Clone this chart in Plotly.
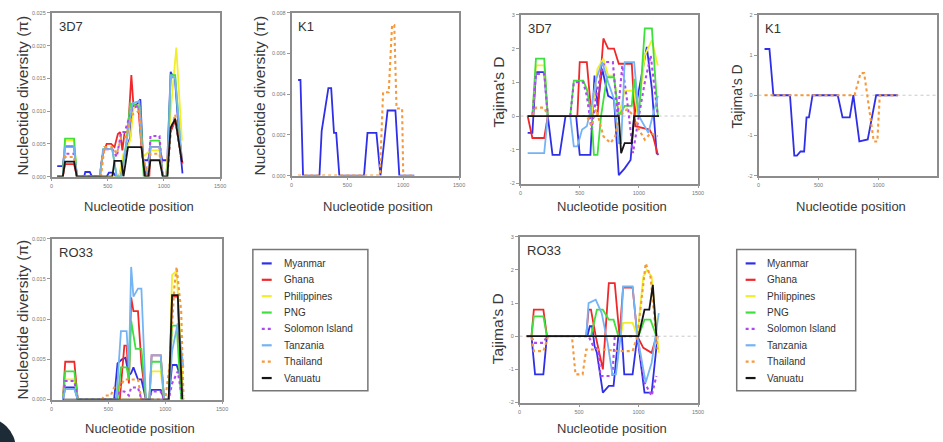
import plotly.graph_objects as go

W, H = 943, 442

SERIES = ["Myanmar", "Ghana", "Philippines", "PNG", "Solomon Island", "Tanzania", "Thailand", "Vanuatu"]
COLORS = {"Myanmar": "#2f2fe8", "Ghana": "#f0282a", "Philippines": "#f2ee2a", "PNG": "#3de03d",
          "Solomon Island": "#b048f0", "Tanzania": "#74b4f5", "Thailand": "#f59a3c", "Vanuatu": "#151515"}
DOTTED = {"Solomon Island", "Thailand"}

X_TICKS = [0, 500, 1000, 1500]
PI_TICKS_3D7 = [0, 0.005, 0.010, 0.015, 0.020, 0.025]
PI_TICKS_K1 = [0, 0.002, 0.004, 0.006, 0.008]
PI_TICKS_RO33 = [0, 0.005, 0.010, 0.015, 0.020]
D_TICKS_5 = [-2, -1, 0, 1, 2, 3]
D_TICKS_4 = [-2, -1, 0, 1, 2]

# ---- Nucleotide diversity, 3D7 ----
pi_3d7 = {
    "Myanmar": ([50, 100, 120, 200, 225, 290, 300, 340, 360, 490, 510, 550, 570, 600, 640, 670, 700, 720, 760, 790, 815, 860, 880, 960, 985, 1030, 1060, 1100, 1140, 1165],
                [0.0016, 0.0016, 0.0046, 0.0046, 0, 0, 0.0007, 0.0007, 0, 0, 0.0006, 0.0006, 0, 0, 0.0025, 0.0045, 0.006, 0.011, 0.011, 0.0118, 0.0025, 0.0025, 0.0045, 0.0045, 0.0025, 0.0025, 0.016, 0.0145, 0.005, 0.0005]),
    "Ghana": ([50, 100, 120, 200, 225, 430, 450, 490, 530, 560, 590, 610, 630, 650, 680, 710, 730, 770, 800, 840, 870, 880, 960, 990, 1020, 1050, 1100, 1130, 1165],
              [0, 0, 0.0019, 0.0019, 0, 0, 0.003, 0.005, 0.005, 0.0045, 0.0065, 0.0068, 0.004, 0.0068, 0.0068, 0.0155, 0.0105, 0.011, 0.0045, 0, 0, 0.0045, 0.0045, 0, 0, 0.0065, 0.0085, 0.007, 0.002]),
    "Philippines": ([50, 100, 120, 200, 225, 600, 640, 680, 700, 730, 780, 810, 880, 960, 990, 1020, 1060, 1110, 1160],
                    [0, 0, 0.0055, 0.0055, 0, 0, 0.0035, 0.0047, 0.0056, 0.0105, 0.011, 0.003, 0.004, 0.004, 0, 0, 0.01, 0.0197, 0.0055]),
    "PNG": ([50, 100, 120, 200, 225, 430, 460, 540, 580, 620, 660, 700, 760, 790, 820, 860, 880, 960, 990, 1030, 1060, 1100, 1150],
            [0, 0, 0.0058, 0.0058, 0, 0, 0.0042, 0.0042, 0, 0, 0.0045, 0.0112, 0.0108, 0.0105, 0, 0, 0.0055, 0.0055, 0, 0, 0.0155, 0.0155, 0.004]),
    "Solomon Island": ([50, 100, 120, 200, 225, 430, 460, 540, 580, 620, 650, 720, 780, 810, 860, 880, 960, 990, 1030, 1060, 1100, 1150],
                       [0, 0, 0.0035, 0.0035, 0, 0, 0.0042, 0.0042, 0.003, 0.0068, 0.0068, 0.0105, 0.0108, 0.003, 0, 0.0062, 0.0062, 0, 0, 0.007, 0.009, 0.003]),
    "Tanzania": ([50, 100, 120, 200, 225, 430, 460, 540, 580, 620, 660, 720, 780, 810, 860, 880, 960, 990, 1030, 1060, 1100, 1160],
                 [0, 0, 0.0045, 0.0045, 0, 0, 0.0042, 0.0042, 0, 0, 0.0045, 0.0112, 0.0115, 0.003, 0, 0.0045, 0.0045, 0, 0, 0.0155, 0.015, 0.0025]),
    "Thailand": ([50, 100, 120, 200, 225, 440, 470, 540, 580, 620, 660, 720, 780, 810, 860, 880, 960, 990, 1030, 1060, 1100, 1150],
                 [0, 0, 0.003, 0.003, 0, 0, 0.0045, 0.0045, 0.0035, 0.006, 0.006, 0.0095, 0.01, 0.003, 0, 0.0035, 0.0035, 0, 0, 0.007, 0.0095, 0.003]),
    "Vanuatu": ([50, 100, 120, 200, 225, 540, 560, 620, 640, 680, 800, 830, 860, 880, 960, 990, 1030, 1060, 1100, 1160],
                [0, 0, 0.0023, 0.0023, 0, 0, 0.0024, 0.0024, 0, 0.0045, 0.0045, 0, 0, 0.0025, 0.0025, 0, 0, 0.0075, 0.0088, 0.0022]),
}

# ---- Nucleotide diversity, K1 ----
pi_k1 = {
    "Myanmar": ([59, 80, 103, 250, 270, 330, 355, 380, 400, 428, 649, 680, 760, 796, 860, 930, 965, 1100],
                [0.0047, 0.0047, 0, 0, 0.0022, 0.0043, 0.0043, 0.0021, 0.0021, 0, 0, 0.0021, 0.0021, 0, 0.0032, 0.0032, 0, 0]),
    "Thailand": ([59, 790, 820, 870, 900, 920, 940, 990, 1000, 1100],
                 [0, 0, 0.0041, 0.0041, 0.0074, 0.0074, 0.0033, 0.0033, 0, 0]),
}

# ---- Tajima's D, 3D7 ----
d_3d7 = {
    "Myanmar": ([60, 100, 130, 200, 230, 270, 330, 380, 470, 500, 590, 625, 650, 690, 740, 790, 830, 880, 930, 960, 1067, 1110, 1150, 1165],
                [-0.5, -0.5, 1.3, 1.3, 0, -1.15, -1.15, 0, 0, -1.15, -1.15, 1.2, 0.3, 1.4, 0.6, 0.5, -1.75, -1.55, -1.3, 0, 2.05, 0.8, -1.1, -1.15]),
    "Ghana": ([60, 100, 200, 230, 440, 480, 500, 560, 600, 650, 700, 740, 790, 830, 940, 970, 1090, 1120, 1160],
              [0, -0.65, -0.65, 0, 0, 0, 1.6, 1.6, 0, 0, 2.3, 2.0, 2.0, 1.55, 1.55, -0.3, -0.4, -0.6, -1.15]),
    "Philippines": ([60, 100, 130, 200, 230, 600, 650, 700, 740, 790, 830, 880, 960, 990, 1050, 1110, 1160],
                    [0, 0, 1.5, 1.5, 0, 0, 1.4, 1.7, 1.2, 1.2, 0, 0.75, 0.75, 0, 1.8, 2.25, 1.5]),
    "PNG": ([60, 100, 130, 200, 230, 420, 450, 530, 560, 600, 620, 650, 680, 730, 790, 830, 880, 940, 960, 1000, 1050, 1110, 1160],
            [0, 0, 1.7, 1.7, 0, 0, 1.05, 1.05, 0.8, 0, -1.15, -1.15, 0, 1.15, 1.15, 0, 0.3, 0.3, 1.1, 0, 2.6, 2.6, 0]),
    "Solomon Island": ([60, 100, 130, 200, 230, 420, 450, 530, 560, 600, 640, 680, 710, 780, 820, 860, 910, 950, 1000, 1050, 1100, 1160],
                       [0, 0, 1.25, 1.25, 0, 0, 1.0, 1.0, 0.6, -0.4, 0.6, 1.3, 1.6, 1.6, 0, 1.5, 0.2, -1.1, 0, 1.0, 1.8, 0]),
    "Tanzania": ([60, 200, 230, 420, 450, 480, 520, 560, 600, 640, 690, 740, 790, 830, 850, 880, 960, 1000, 1080, 1130, 1160],
                 [-1.1, -1.1, 0, 0, -0.9, -0.9, -0.4, -0.3, 0.3, 1.1, 1.6, 1.0, 0.5, -0.8, -0.8, 1.6, 1.6, 0, -0.5, 0.2, 0.6]),
    "Thailand": ([60, 100, 130, 200, 230, 560, 600, 640, 700, 760, 800, 830, 900, 960, 1000, 1050, 1100, 1160],
                 [0, 0, 0.25, 0.25, 0, 0, -0.3, 0.2, -0.6, -0.8, -0.6, 0, 0.2, 0, -0.4, -0.7, -0.5, -0.6]),
    "Vanuatu": ([60, 830, 850, 880, 940, 960, 1170],
                [0, 0, -1.1, -0.8, -0.8, 0, 0]),
}

# ---- Tajima's D, K1 ----
d_k1 = {
    "Myanmar": ([50, 91, 124, 262, 298, 320, 350, 380, 400, 420, 450, 660, 700, 760, 790, 840, 910, 980, 1160],
                [1.15, 1.15, 0, 0, -1.5, -1.5, -1.4, -1.4, -0.55, -0.55, 0, 0, -0.55, -0.55, 0, -1.15, -1.1, 0, 0]),
    "Thailand": ([50, 800, 850, 880, 960, 990, 1010, 1160],
                 [0, 0, 0.55, 0.55, -1.15, -1.15, 0, 0]),
}

# ---- Nucleotide diversity, RO33 ----
pi_ro33 = {
    "Myanmar": ([100, 120, 200, 230, 550, 580, 620, 650, 680, 700, 720, 760, 790, 830, 860, 880, 960, 990, 1030, 1060, 1100, 1130, 1160],
                [0, 0.0015, 0.0015, 0, 0, 0.0045, 0.005, 0.0052, 0.003, 0.0033, 0.004, 0.0025, 0.0025, 0, 0, 0.0012, 0.0012, 0, 0, 0.0043, 0.0043, 0.003, 0]),
    "Ghana": ([100, 120, 200, 230, 600, 640, 660, 680, 700, 720, 760, 790, 830, 860, 880, 960, 990, 1030, 1060, 1110, 1140],
              [0, 0.0047, 0.0047, 0, 0, 0.0067, 0.0067, 0.002, 0.0127, 0.011, 0.011, 0.0045, 0, 0, 0.0055, 0.0055, 0, 0, 0.0128, 0.0128, 0]),
    "Philippines": ([100, 120, 200, 230, 860, 880, 960, 990, 1030, 1060, 1100, 1130, 1160],
                    [0, 0.0025, 0.0025, 0, 0, 0.0035, 0.0035, 0, 0, 0.0155, 0.016, 0.008, 0]),
    "PNG": ([100, 120, 200, 230, 580, 610, 660, 680, 700, 740, 790, 830, 860, 880, 960, 990, 1030, 1060, 1100, 1140],
            [0, 0.0035, 0.0035, 0, 0, 0.004, 0.004, 0.0025, 0.0098, 0.0063, 0.0063, 0, 0, 0.0047, 0.0047, 0, 0, 0.0092, 0.0092, 0]),
    "Solomon Island": ([100, 120, 200, 230, 560, 600, 640, 680, 700, 760, 790, 830, 860, 880, 960, 990, 1030, 1060, 1110, 1150],
                       [0, 0.0023, 0.0023, 0, 0, 0.001, 0.001, 0.0005, 0.0015, 0.0015, 0, 0, 0, 0.001, 0.001, 0, 0, 0.002, 0.0035, 0]),
    "Tanzania": ([100, 120, 200, 230, 570, 610, 660, 680, 700, 720, 760, 790, 830, 860, 880, 960, 990, 1030, 1060, 1110, 1160],
                 [0, 0.0013, 0.0013, 0, 0, 0.0085, 0.0085, 0.004, 0.0165, 0.0128, 0.0138, 0.0138, 0, 0, 0.0055, 0.0055, 0, 0, 0.006, 0.0095, 0.004]),
    "Thailand": ([440, 470, 520, 550, 600, 640, 700, 760, 790, 1000, 1040, 1080, 1100, 1140, 1160],
                 [0, 0.0005, 0.0005, 0.0015, 0.0015, 0.0025, 0.0025, 0.0025, 0, 0, 0.0045, 0.014, 0.0165, 0.011, 0.0005]),
    "Vanuatu": ([100, 1030, 1060, 1110, 1150],
                [0, 0, 0.013, 0.013, 0]),
}

# ---- Tajima's D, RO33 ----
d_ro33 = {
    "Myanmar": ([60, 100, 130, 200, 230, 570, 590, 610, 630, 650, 700, 750, 790, 830, 860, 880, 950, 990, 1050, 1110, 1160],
                [0, 0, -1.15, -1.15, 0, 0, 0.3, 0.3, -0.3, -0.5, -1.7, -1.5, -1.5, 0, 0, -1.15, -1.15, 0, -1.7, -1.7, 0]),
    "Ghana": ([60, 100, 120, 200, 230, 560, 580, 600, 640, 700, 750, 800, 840, 870, 950, 990, 1040, 1060, 1110, 1150],
              [0, 0, 0.8, 0.8, 0, 0, 0.8, 0.8, 0, -1.0, 1.6, 1.6, 0, 1.47, 1.47, 0, -0.35, -0.4, -0.5, 0]),
    "Philippines": ([60, 850, 870, 950, 990, 1040, 1070, 1110, 1170],
                    [0, 0, 0.4, 0.4, 0, 1.8, 2.0, 1.8, -0.5]),
    "PNG": ([60, 100, 120, 200, 230, 600, 650, 700, 750, 790, 830, 1000, 1050, 1100, 1150],
            [0, 0, 0.6, 0.6, 0, 0, 0.8, 0.8, 0.5, 0.5, 0, 0, 0.5, 0.5, 0]),
    "Solomon Island": ([60, 100, 120, 200, 230, 580, 620, 660, 680, 780, 800, 990, 1050, 1110, 1150],
                       [0, 0, -0.2, -0.2, 0, 0, -0.3, -0.4, -1.2, -1.2, 0, 0, -1.4, -1.8, -1.2]),
    "Tanzania": ([560, 580, 640, 690, 740, 780, 810, 850, 870, 950, 990, 1060, 1110, 1170],
                 [0, 1.0, 1.1, 0.7, -0.2, -1.15, -1.15, 0, 1.5, 1.5, 0, -1.4, -0.8, 0.7]),
    "Thailand": ([60, 100, 120, 200, 240, 440, 470, 530, 560, 580, 700, 850, 870, 950, 990, 1060, 1100, 1160],
                 [0, 0, -0.45, -0.45, 0, 0, -1.15, -1.15, -0.4, -0.4, -0.4, -0.45, -0.45, -0.45, 0, 2.2, 1.8, -0.4]),
    "Vanuatu": ([60, 1000, 1050, 1090, 1120, 1150],
                [0, 0, 0.8, 0.8, 1.55, 0]),
}

FONT = "Liberation Sans, Arial, sans-serif"

# panel layout (pixel boxes: left, right, top, bottom)
panels = [
    dict(data=pi_3d7, box=(50, 220, 10, 176), xr=[0, 1500], yr=[0, 0.025], yt=PI_TICKS_3D7, fmt="{:.3f}",
         label="3D7", ytitle="Nucleotide diversity (\u03c0)", yt_pos=(21, 94), ysz=15.5, zero=False),
    dict(data=pi_k1, box=(292, 461, 10, 175), xr=[0, 1500], yr=[0, 0.008], yt=PI_TICKS_K1, fmt="{:.3f}",
         label="K1", ytitle="Nucleotide diversity (\u03c0)", yt_pos=(260, 94), ysz=15.5, zero=False),
    dict(data=d_3d7, box=(523, 702, 12, 183), xr=[0, 1500], yr=[-2, 3], yt=D_TICKS_5, fmt="{:d}",
         label="3D7", ytitle="Tajima's D", yt_pos=(501, 90), ysz=15.5, zero=True),
    dict(data=d_k1, box=(763, 943, 12, 175), xr=[0, 1487], yr=[-2, 2], yt=D_TICKS_4, fmt="{:d}",
         label="K1", ytitle="Tajima's D", yt_pos=(741, 95), ysz=14, zero=True),
    dict(data=pi_ro33, box=(50, 222, 239, 402), xr=[0, 1500], yr=[0, 0.020], yt=PI_TICKS_RO33, fmt="{:.3f}",
         label="RO33", ytitle="Nucleotide diversity (\u03c0)", yt_pos=(21, 321), ysz=15.5, zero=False),
    dict(data=d_ro33, box=(522, 702, 237, 405), xr=[0, 1500], yr=[-2, 3], yt=D_TICKS_5, fmt="{:d}",
         label="RO33", ytitle="Tajima's D", yt_pos=(500, 330), ysz=15.5, zero=True),
]

fig = go.Figure()
annotations = []
shapes = []
layout = {}


def px_x(v):
    return v / W


def px_y(v):
    return 1 - v / H


for i, p in enumerate(panels):
    s = "" if i == 0 else str(i + 1)
    for name in SERIES:
        if name not in p["data"]:
            continue
        xs, ys = p["data"][name]
        dotted = name in DOTTED
        fig.add_trace(go.Scatter(
            x=xs, y=ys, xaxis="x" + s, yaxis="y" + s, mode="lines", name=name, showlegend=False,
            line=dict(color=COLORS[name], width=2.1 if dotted else 1.8, dash="dot" if dotted else "solid"),
            hoverinfo="skip"))
    l, r, t, b = p["box"]
    layout["xaxis" + s] = dict(
        domain=[px_x(l), px_x(r)], range=p["xr"], anchor="y" + s, tickvals=X_TICKS,
        ticktext=[str(v) for v in X_TICKS], ticks="outside", ticklen=3, tickwidth=1, tickcolor="#999",
        tickfont=dict(size=5.5, color="#777", family=FONT), showline=True, mirror=True,
        linecolor="#8c8c8c", linewidth=1.5, showgrid=False, zeroline=False, fixedrange=True)
    layout["yaxis" + s] = dict(
        domain=[px_y(b), px_y(t)], range=p["yr"], anchor="x" + s, tickvals=p["yt"],
        ticktext=[p["fmt"].format(v) for v in p["yt"]], ticks="outside", ticklen=3, tickwidth=1,
        tickcolor="#999", tickfont=dict(size=5.5, color="#777", family=FONT), showline=True, mirror=True,
        linecolor="#8c8c8c", linewidth=1.5, showgrid=False, zeroline=False, fixedrange=True)
    if p["zero"]:
        shapes.append(dict(type="line", xref="x" + s, yref="y" + s, x0=p["xr"][0], x1=p["xr"][1], y0=0, y1=0,
                           line=dict(color="#c8c8c8", width=1, dash="dot"), layer="below"))
    # panel label
    annotations.append(dict(text=p["label"], xref="paper", yref="paper", x=px_x(l + 5), y=px_y(t + 14),
                            xanchor="left", yanchor="middle", showarrow=False,
                            font=dict(size=13, color="#333", family=FONT)))
    # y title
    annotations.append(dict(text=p["ytitle"], xref="paper", yref="paper", x=px_x(p["yt_pos"][0]),
                            y=px_y(p["yt_pos"][1]), textangle=-90, xanchor="center", yanchor="middle",
                            showarrow=False, font=dict(size=p["ysz"], color="#3a3a3a", family=FONT)))
    # x title
    xt_y = 206 if t < 100 else 431
    annotations.append(dict(text="Nucleotide position", xref="paper", yref="paper",
                            x=px_x((l + min(r, 945)) / 2 + 3), y=px_y(xt_y), xanchor="center", yanchor="middle",
                            showarrow=False, font=dict(size=13, color="#3a3a3a", family=FONT)))

# legends (two boxes)
for (bx0, by0, bx1, by1) in [(253, 250, 369, 393), (741, 250, 861, 393)]:
    shapes.append(dict(type="rect", xref="paper", yref="paper", x0=px_x(bx0), x1=px_x(bx1),
                       y0=px_y(by1), y1=px_y(by0), line=dict(color="#777", width=1.5), fillcolor="white"))
    for k, name in enumerate(SERIES):
        yy = 264 + k * 16.6
        dotted = name in DOTTED
        shapes.append(dict(type="line", xref="paper", yref="paper", x0=px_x(bx0 + 9), x1=px_x(bx0 + 19),
                           y0=px_y(yy), y1=px_y(yy),
                           line=dict(color=COLORS[name], width=2.2, dash="dot" if dotted else "solid")))
        annotations.append(dict(text=name, xref="paper", yref="paper", x=px_x(bx0 + 29), y=px_y(yy),
                                xanchor="left", yanchor="middle", showarrow=False,
                                font=dict(size=10, color="#333", family=FONT)))

# dark corner blob at bottom-left
shapes.append(dict(type="circle", xref="paper", yref="paper", x0=px_x(-50), x1=px_x(14),
                   y0=px_y(484), y1=px_y(420), fillcolor="#1c2b35", line=dict(width=0)))

fig.update_layout(
    width=W, height=H, margin=dict(l=0, r=0, t=0, b=0), paper_bgcolor="white", plot_bgcolor="white",
    showlegend=False, annotations=annotations, shapes=shapes, **layout)

fig.write_html("out.html", config={"displayModeBar": False},
               post_script="document.body.style.margin='0px';document.body.style.overflow='hidden';")
